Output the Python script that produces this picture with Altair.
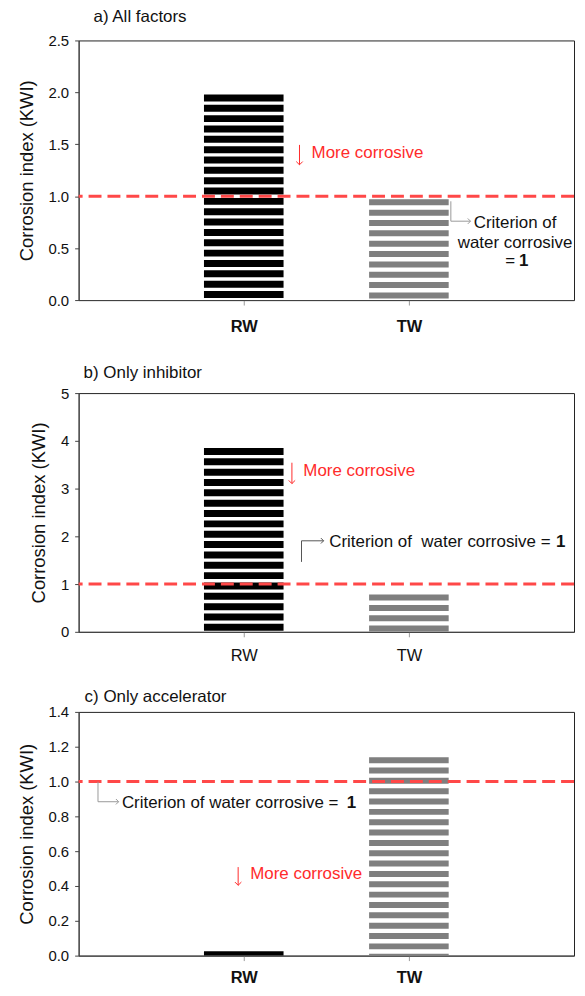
import altair as alt
import pandas as pd

FONT = "Liberation Sans"

# ---- data ----
categories = ["RW", "TW"]
kwi_all = [1.98, 0.97]
kwi_inhibitor = [3.85, 0.78]
kwi_accelerator = [0.025, 1.14]
criterion = 1.0

ticks_a = [0.0, 0.5, 1.0, 1.5, 2.0, 2.5]
ticks_b = [0, 1, 2, 3, 4, 5]
ticks_c = [0.0, 0.2, 0.4, 0.6, 0.8, 1.0, 1.2, 1.4]

panel_titles = ["a) All factors", "b) Only inhibitor", "c) Only accelerator"]
y_title = "Corrosion index (KWI)"
note_more = "More corrosive"
note_crit_a = ["Criterion of", "water corrosive"]
note_crit_b = "Criterion of\u00a0 water corrosive ="
note_crit_c = "Criterion of water corrosive ="
note_eq = "="
note_one = "1"

RED_TXT = "#ff2b2b"
RED_LINE = "#ff4848"
W = 498
K = W / 504.0  # horizontal factor for annotation offsets


def one():
    return alt.Data(values=[{}])


def text(txt, x, y, color="#111111", size=17, weight="normal", align="left"):
    return alt.Chart(one()).mark_text(
        text=txt, align=align, baseline="middle", fontSize=size,
        fontWeight=weight, color=color, font=FONT
    ).encode(x=alt.value(x), y=alt.value(y))


def seg(x1, y1, x2, y2, color, width=1):
    return alt.Chart(one()).mark_rule(color=color, strokeWidth=width).encode(
        x=alt.value(x1), x2=alt.value(x2), y=alt.value(y1), y2=alt.value(y2)
    )


def head(x, y, shape, color, size):
    return alt.Chart(one()).mark_point(
        shape=shape, size=size, filled=False, color=color, strokeWidth=1, opacity=1
    ).encode(x=alt.value(x), y=alt.value(y))


DOWN = "M-1,-1L0,0L1,-1"
RIGHT = "M-1,-1L0,0L-1,1"


def down_arrow(x, y1, y2):
    return [seg(x, y1, x, y2, RED_TXT), head(x, y2, DOWN, RED_TXT, 42)]


def panel(values, ticks, fmt, title, height, title_dx, title_offset,
          label_weight, label_pad, notes, spacer_pad=None):
    df = pd.DataFrame({"water": categories, "kwi": values})
    x_kwargs = dict(
        labelAngle=0, labelFontWeight=label_weight, labelFontSize=16.5,
        labelPadding=label_pad, tickSize=5, tickColor="#999999",
        domainColor="#444444", labelColor="#111111", labelFont=FONT,
    )
    if spacer_pad is not None:
        x_axis = alt.Axis(title=".", titleOpacity=0, titleFontSize=4,
                          titlePadding=spacer_pad, **x_kwargs)
    else:
        x_axis = alt.Axis(title=None, **x_kwargs)
    y_axis = alt.Axis(
        values=ticks, format=fmt, title=y_title, grid=False, tickSize=4,
        tickColor="#444444", domainColor="#444444", labelFontSize=15,
        labelPadding=6, titleFontSize=18.5, titleFontWeight="normal",
        titlePadding=12, labelColor="#111111", titleColor="#111111",
        labelFont=FONT, titleFont=FONT, labelOverlap=False,
    )
    y_scale = alt.Scale(domain=[ticks[0], ticks[-1]], nice=False)
    bars = alt.Chart(df).mark_rule(strokeCap="butt", strokeWidth=80).encode(
        x=alt.X("water:N", scale=alt.Scale(type="point", padding=1, domain=categories),
                axis=x_axis),
        y=alt.Y("kwi:Q", scale=y_scale, axis=y_axis),
        y2=alt.datum(0),
        color=alt.Color("water:N", scale=alt.Scale(domain=categories,
                                                   range=["#000000", "#7f7f7f"]),
                        legend=None),
        strokeDash=alt.StrokeDash("water:N",
                                  scale=alt.Scale(domain=categories,
                                                  range=[[7, 3.4], [6, 4.4]]),
                                  legend=None),
    )
    line = alt.Chart(pd.DataFrame({"kwi": [criterion]})).mark_rule(
        color=RED_LINE, strokeWidth=3, strokeDash=[13, 6]
    ).encode(y=alt.Y("kwi:Q", scale=y_scale, axis=y_axis))
    return alt.layer(bars, line, *notes).properties(
        width=W, height=height,
        title=alt.TitleParams(
            title, anchor="start", frame="group", dx=title_dx, offset=title_offset,
            fontSize=17, fontWeight="normal", font=FONT, color="#111111",
        ),
    )


notes_a = (
    down_arrow(224.7 * K, 105, 125)
    + [text(note_more, 237 * K, 112.7, color=RED_TXT)]
    + [
        seg(378.7 * K, 161.7, 378.7 * K, 181.7, "#999999"),
        seg(378.7 * K, 181.7, 398.7 * K, 181.7, "#999999"),
        head(398.7 * K, 181.7, RIGHT, "#999999", 30),
        text(note_crit_a[0], 444 * K, 183.3, align="center"),
        text(note_crit_a[1], 444 * K, 203.3, align="center"),
        text(note_eq, 444 * K, 221.7, align="right"),
        text(note_one, 444 * K + 4, 221.7, weight="bold"),
    ]
)

notes_b = (
    down_arrow(217 * K, 70, 91)
    + [text(note_more, 228.6 * K, 78.7, color=RED_TXT)]
    + [
        seg(226.75 * K, 148.5, 226.75 * K, 169.7, "#555555"),
        seg(226.75 * K, 148.5, 249.25 * K, 148.5, "#555555"),
        head(249.25 * K, 148.5, RIGHT, "#555555", 30),
        text(note_crit_b, 255 * K, 149.7),
        text(note_one, 255 * K + 228, 149.7, weight="bold"),
    ]
)

notes_c = (
    [
        seg(19.7 * K, 70.3, 19.7 * K, 90.3, "#999999"),
        seg(19.7 * K, 90.3, 40.7 * K, 90.3, "#999999"),
        head(40.7 * K, 90.3, RIGHT, "#999999", 30),
        text(note_crit_c, 44 * K, 91.7),
        text(note_one, 44 * K + 226, 91.7, weight="bold"),
    ]
    + down_arrow(162.3 * K, 156, 174.3)
    + [text(note_more, 174.6 * K, 162.7, color=RED_TXT)]
)

pa = panel(kwi_all, ticks_a, ".1f", panel_titles[0], 261, 15, 7.4, "bold", 13.7,
           notes_a, spacer_pad=8.8)
pb = panel(kwi_inhibitor, ticks_b, "d", panel_titles[1], 240, 5, 4.5, "normal", 10.7,
           notes_b)
pc = panel(kwi_accelerator, ticks_c, ".1f", panel_titles[2], 245, 6, -1, "bold", 9.3,
           notes_c)

chart = alt.vconcat(pa, pb, pc, spacing=14.5).properties(
    padding={"left": 8, "top": -3, "right": 1, "bottom": 0}
).configure_view(stroke="#222222", strokeWidth=1).configure_axis(labelOverlap=False)

chart.save("out.html", embed_options={"renderer": "svg", "actions": False})
